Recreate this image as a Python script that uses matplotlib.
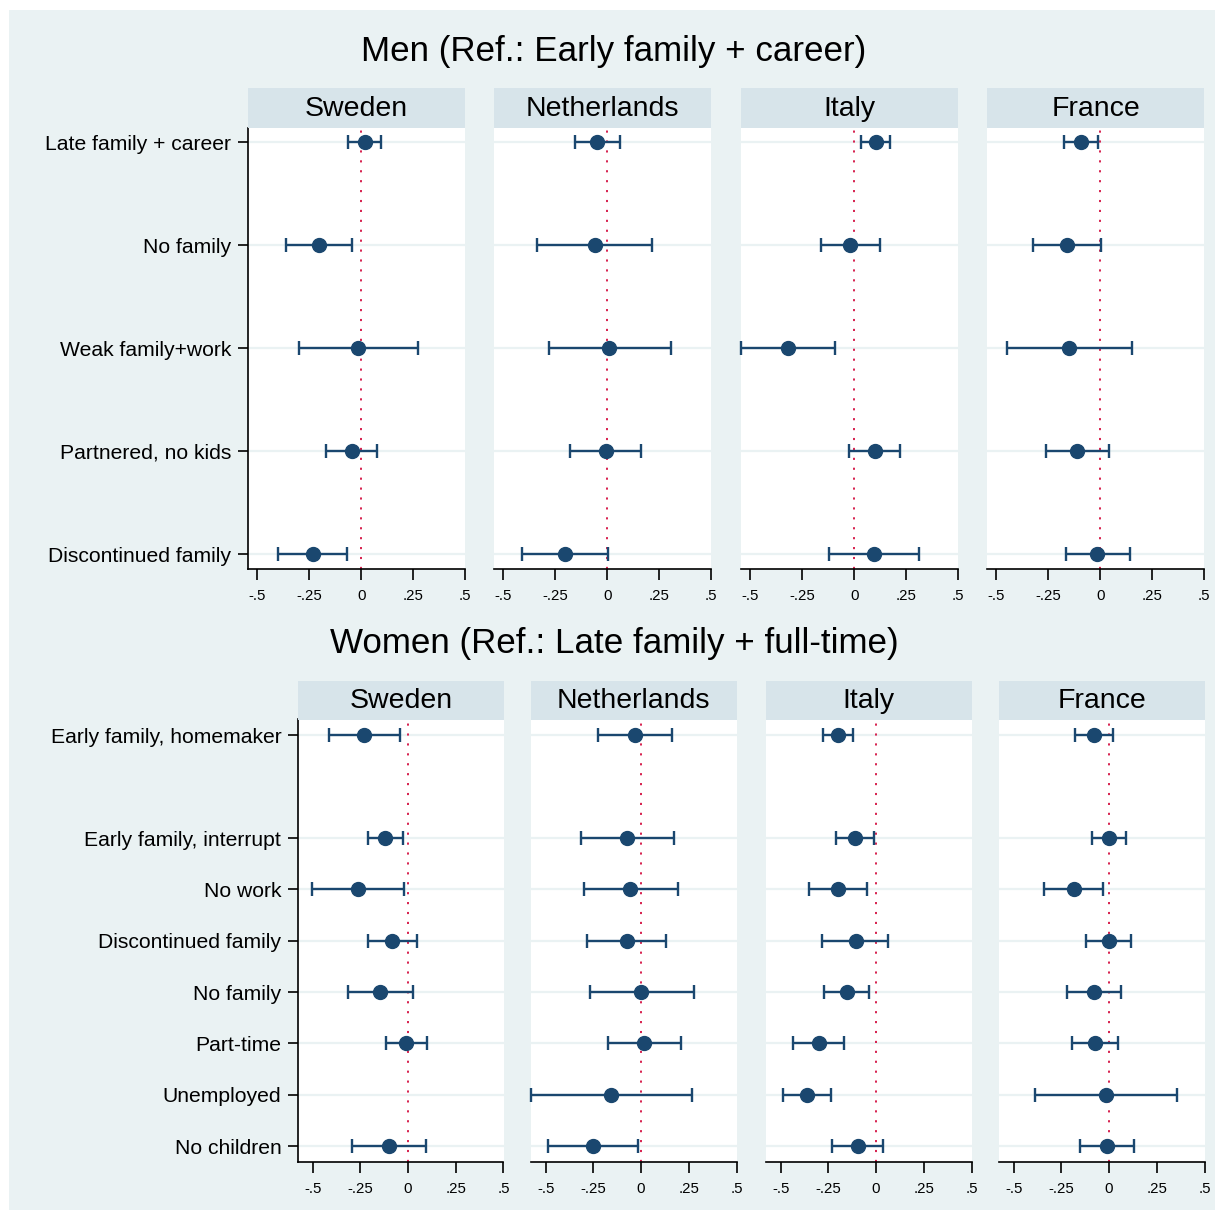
import numpy as np
import matplotlib
matplotlib.use("Agg")
import matplotlib.pyplot as plt
from matplotlib.patches import Rectangle

plt.rcParams['font.family'] = ['Liberation Sans', 'DejaVu Sans']

countries = ["Sweden", "Netherlands", "Italy", "France"]

men_labels = ["Late family + career", "No family", "Weak family+work",
              "Partnered, no kids", "Discontinued family"]
women_labels = ["Early family, homemaker", "Early family, interrupt", "No work",
                "Discontinued family", "No family", "Part-time", "Unemployed",
                "No children"]

men_est = {
    "Sweden":      [0.018, -0.203, -0.013, -0.044, -0.234],
    "Netherlands": [-0.047, -0.060, 0.011, -0.008, -0.202],
    "Italy":       [0.104, -0.021, -0.319, 0.098, 0.096],
    "France":      [-0.092, -0.161, -0.148, -0.110, -0.013],
}
men_lo = {
    "Sweden":      [-0.063, -0.361, -0.297, -0.168, -0.400],
    "Netherlands": [-0.155, -0.339, -0.279, -0.177, -0.408],
    "Italy":       [0.035, -0.162, -0.545, -0.024, -0.119],
    "France":      [-0.174, -0.322, -0.451, -0.262, -0.164],
}
men_hi = {
    "Sweden":      [0.097, -0.042, 0.273, 0.077, -0.069],
    "Netherlands": [0.061, 0.218, 0.305, 0.165, 0.006],
    "Italy":       [0.173, 0.124, -0.091, 0.223, 0.313],
    "France":      [-0.010, 0.003, 0.155, 0.042, 0.143],
}

women_est = {
    "Sweden":      [-0.229, -0.119, -0.264, -0.082, -0.145, -0.009, np.nan, -0.101],
    "Netherlands": [-0.033, -0.072, -0.056, -0.073, 0.002, 0.017, -0.156, -0.252],
    "Italy":       [-0.198, -0.110, -0.200, -0.107, -0.154, -0.301, -0.363, -0.096],
    "France":      [-0.077, -0.002, -0.186, -0.002, -0.077, -0.074, -0.016, -0.009],
}
women_lo = {
    "Sweden":      [-0.413, -0.208, -0.503, -0.212, -0.313, -0.114, np.nan, -0.294],
    "Netherlands": [-0.227, -0.315, -0.301, -0.285, -0.269, -0.171, -0.577, -0.486],
    "Italy":       [-0.278, -0.208, -0.350, -0.282, -0.275, -0.436, -0.490, -0.229],
    "France":      [-0.177, -0.089, -0.341, -0.119, -0.221, -0.193, -0.389, -0.152],
}
women_hi = {
    "Sweden":      [-0.044, -0.026, -0.023, 0.047, 0.028, 0.100, np.nan, 0.093],
    "Netherlands": [0.163, 0.170, 0.191, 0.133, 0.276, 0.210, 0.267, -0.014],
    "Italy":       [-0.119, -0.011, -0.047, 0.065, -0.035, -0.166, -0.235, 0.035],
    "France":      [0.021, 0.088, -0.030, 0.117, 0.065, 0.046, 0.356, 0.133],
}

xtick_vals = [-0.5, -0.25, 0, 0.25, 0.5]
xtick_labels = ["-.5", "-.25", "0", ".25", ".5"]

W, H = 1215, 1210
BG = "#EAF2F3"
STRIP = "#D7E4EA"
NAVY = "#1A476F"
REF = "#D6204E"
GRID = "#EAF2F3"

fig = plt.figure(figsize=(W / 100, H / 100), dpi=100, facecolor="white")
fig.patches.append(Rectangle((9 / W, 0), 1 - 9 / W, 1 - 10 / H,
                             transform=fig.transFigure, facecolor=BG,
                             edgecolor="none", zorder=-10))


def px_axes(x0, y0, x1, y1, **kw):
    return fig.add_axes([x0 / W, 1 - y1 / H, (x1 - x0) / W, (y1 - y0) / H], **kw)


def draw_panel(ax, est, lo, hi, ypos, xlim, ylim, show_y, labels):
    ax.set_facecolor("white")
    for y in ypos:
        ax.axhline(y, color=GRID, lw=1.6, zorder=1)
    ax.axvline(0, color=REF, lw=1.4, linestyle=(0, (1.1, 4.0)), zorder=2)
    est = np.asarray(est, float)
    lo = np.asarray(lo, float)
    hi = np.asarray(hi, float)
    ypos = np.asarray(ypos, float)
    ok = ~np.isnan(est)
    ax.errorbar(est[ok], ypos[ok], xerr=[est[ok] - lo[ok], hi[ok] - est[ok]],
                fmt="o", color=NAVY, ms=10, mec=NAVY, mfc=NAVY,
                elinewidth=1.7, capsize=4.8, capthick=1.7, zorder=3, clip_on=False)
    ax.set_xlim(*xlim)
    ax.set_ylim(*ylim)
    ax.set_xticks(xtick_vals)
    ax.set_xticklabels(xtick_labels, fontsize=10.8)
    ax.tick_params(axis="x", length=8, width=1.2, pad=6.5, color="black")
    for s in ["top", "right"]:
        ax.spines[s].set_visible(False)
    ax.spines["bottom"].set_linewidth(1.2)
    if show_y:
        ax.set_yticks(ypos)
        ax.set_yticklabels(labels, fontsize=15.2)
        ax.tick_params(axis="y", length=7, width=1.2, pad=5)
        ax.spines["left"].set_linewidth(1.2)
    else:
        ax.set_yticks([])
        ax.spines["left"].set_visible(False)


def header(x0, y0, x1, y1, text):
    hx = px_axes(x0, y0, x1, y1)
    hx.set_facecolor(STRIP)
    hx.set_xticks([]); hx.set_yticks([])
    for s in hx.spines.values():
        s.set_visible(False)
    hx.text(0.5, 0.47, text, ha="center", va="center", fontsize=20.5,
            transform=hx.transAxes)


# Men
men_pos = list(range(1, len(men_labels) + 1))
men_left = [248, 494, 741, 987]
for i, c in enumerate(countries):
    x0 = men_left[i]
    x1 = x0 + 217
    ax = px_axes(x0, 128, x1, 569)
    draw_panel(ax, men_est[c], men_lo[c], men_hi[c], men_pos,
               (-0.545, 0.5), (5.145, 0.86), i == 0, men_labels)
    header(x0, 88, x1, 128, c)

# Women
women_pos = [1, 3, 4, 5, 6, 7, 8, 9]
women_left = [298, 531, 766, 999]
for i, c in enumerate(countries):
    x0 = women_left[i]
    x1 = x0 + 205.5
    ax = px_axes(x0, 719.5, x1, 1161.5)
    draw_panel(ax, women_est[c], women_lo[c], women_hi[c], women_pos,
               (-0.577, 0.5), (9.3, 0.69), i == 0, women_labels)
    header(x0, 681, x1, 719.5, c)

fig.text(614 / W, 1 - 52 / H, "Men (Ref.: Early family + career)",
         ha="center", va="center", fontsize=25.2)
fig.text(614 / W, 1 - 644 / H, "Women (Ref.: Late family + full-time)",
         ha="center", va="center", fontsize=25.2)

fig.savefig("out.png", dpi=100, facecolor="white")
